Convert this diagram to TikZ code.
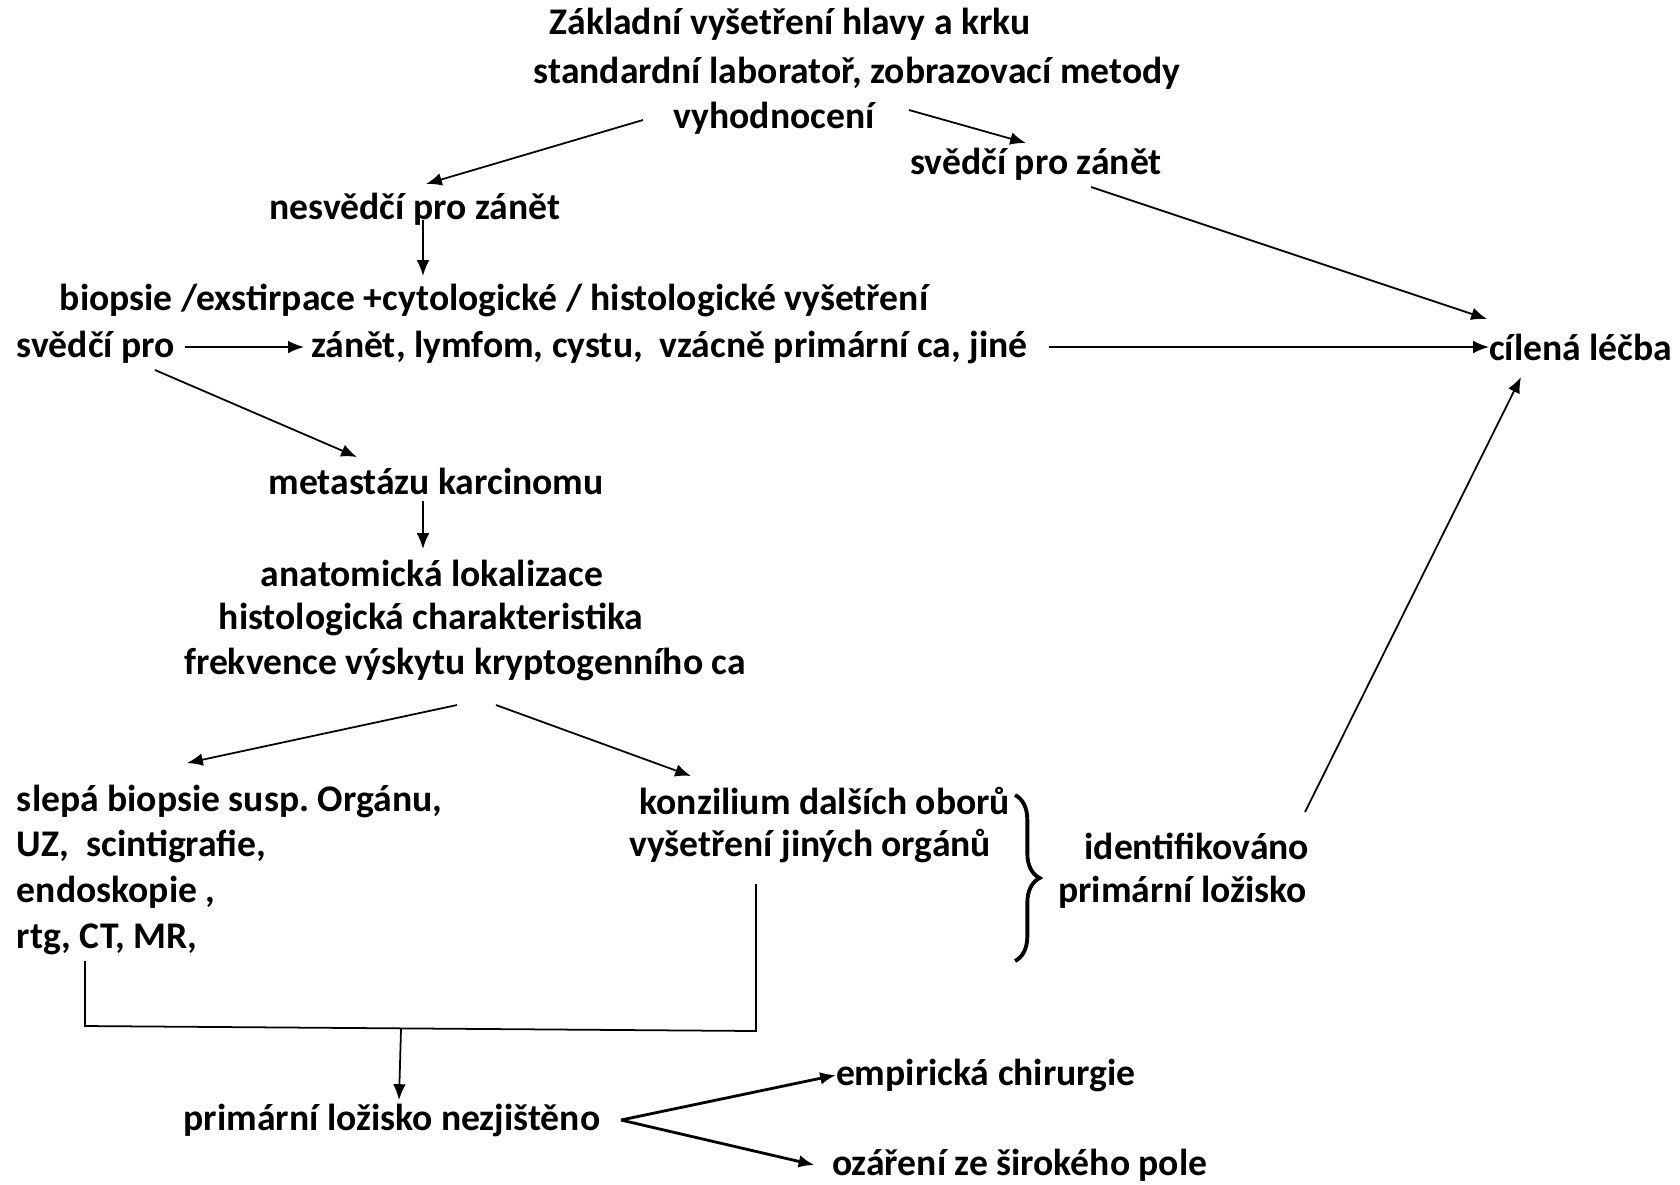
\documentclass[tikz,border=0pt]{standalone}
\usepackage{fontspec}
\setmainfont{Carlito}
\usetikzlibrary{arrows.meta,positioning,decorations.pathreplacing}
\frenchspacing

\begin{document}
\begin{tikzpicture}[
  x=0.01cm, y=-0.01cm,
  font=\fontsize{10.7}{13}\selectfont\bfseries,
  lbl/.style={inner sep=0pt, outer sep=0pt},
  arr/.style={-{Latex[length=4.5pt,width=3.6pt]}, line width=0.5pt},
  warr/.style={arr, line width=0.8pt},
  joinline/.style={line width=0.5pt}
]
\useasboundingbox (0,0) rectangle (1680,1184);

% top part
\node[lbl] (zakl)  at (790,24)  {Základní vyšetření hlavy a krku};
\node[lbl] (stand) at (857,73)  {standardní laboratoř, zobrazovací metody};
\node[lbl] (vyh)   at (774,118) {vyhodnocení};
\node[lbl] (svz)   at (1036,164) {svědčí pro zánět};
\node[lbl] (nesv)  at (415,209) {nesvědčí pro zánět};
\node[lbl] (biop)  at (494,300) {biopsie /exstirpace +cytologické / histologické vyšetření};
\node[lbl, anchor=west] (svpro)  at (17,347)   {svědčí pro};
\node[lbl, anchor=west] (zanet)  at (311,347)  {zánět, lymfom, cystu,\ \ vzácně primární ca, jiné};
\node[lbl, anchor=west] (cilena) at (1489,347) {cílená léčba};

% metastasis branch
\node[lbl] (meta) at (436,481) {metastázu karcinomu};
\node[lbl] (anat) at (432,573) {anatomická lokalizace};
\node[lbl] (hist) at (431,619) {histologická charakteristika};
\node[lbl] (frek) at (465,664) {frekvence výskytu kryptogenního ca};

\node[lbl, anchor=west] (slepa) at (17,801) {slepá biopsie susp. Orgánu,};
\node[lbl, anchor=west] (uz)    at (17,846) {UZ,\ \ scintigrafie,};
\node[lbl, anchor=west] (endo)  at (17,892) {endoskopie ,};
\node[lbl, anchor=west] (rtg)   at (17,939) {rtg, CT, MR,};

\node[lbl, anchor=east] (konz) at (1010,801) {konzilium dalších oborů};
\node[lbl, anchor=east] (vysj) at (991,846)  {vyšetření jiných orgánů};
\node[lbl, anchor=east] (ident) at (1309,846) {identifikováno};
\node[lbl, anchor=east] (prim)  at (1307,892) {primární ložisko};

\node[lbl] (nezj) at (392,1120) {primární ložisko nezjištěno};
\node[lbl, anchor=west] (empir) at (836,1075) {empirická chirurgie};
\node[lbl, anchor=west] (ozar)  at (832,1165) {ozáření ze širokého pole};

% free ends of the connectors
\coordinate (vyhL) at (643,120);  \coordinate (nesvT) at (426,184);
\coordinate (vyhR) at (909,110);  \coordinate (svzT)  at (1026,143);
\coordinate (svzB) at (1091,187); \coordinate (cilT)  at (1487,319);
\coordinate (nesvB) at (423,220); \coordinate (biopT) at (423,276);
\coordinate (svproB) at (155,370); \coordinate (metaT) at (357,457);
\coordinate (metaB) at (423,501); \coordinate (anatT) at (423,549);
\coordinate (frekL) at (457,705); \coordinate (slepaT) at (187,763);
\coordinate (frekR) at (496,705); \coordinate (konzT)  at (691,776);
\coordinate (identT) at (1305,812); \coordinate (cilB) at (1521,377);
\coordinate (rtgB) at (85,961);   \coordinate (vysjB) at (756,884);
\coordinate (joinL) at (85,1026); \coordinate (joinR) at (756,1031);
\coordinate (joinM) at (401,1029); \coordinate (nezjT) at (399,1100);
\coordinate (nezjR) at (621,1120);

\draw[arr] (vyhL) -- (nesvT);
\draw[arr] (vyhR) -- (svzT);
\draw[arr] (svzB) -- (cilT);
\draw[arr] (nesvB) -- (biopT);
\draw[arr, shorten <=3pt, shorten >=2pt] (svpro.east) -- (zanet.west);
\draw[arr, shorten <=6pt] (zanet.east) -- (cilena.west);
\draw[arr] (svproB) -- (metaT);
\draw[arr] (metaB) -- (anatT);
\draw[arr] (frekL) -- (slepaT);
\draw[arr] (frekR) -- (konzT);
\draw[arr] (identT) -- (cilB);

\draw[decorate, decoration={brace, amplitude=7pt}, line width=1.1pt]
  (1015,795) -- (1015,961);

\draw[joinline] (rtgB) -- (joinL) -- (joinR) -- (vysjB);
\draw[arr] (joinM) -- (nezjT);
\draw[warr] (nezjR) -- (empir.west);
\draw[warr] (nezjR) -- ([xshift=-5pt]ozar.west);
\end{tikzpicture}
\end{document}
